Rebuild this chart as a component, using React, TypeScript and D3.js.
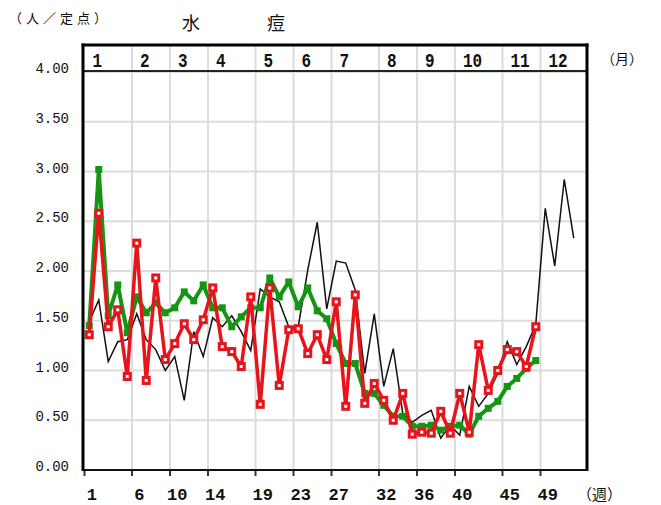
import * as d3 from "d3";

// 月の区切り（週番号）と目盛
const monthLabels = ["1", "2", "3", "4", "5", "6", "7", "8", "9", "10", "11", "12"];
const monthStartWeeks = [1, 6, 10, 14, 19, 23, 27, 32, 36, 40, 45, 49];
const weekTicks = [1, 6, 10, 14, 19, 23, 27, 32, 36, 40, 45, 49];
const yTicks = [0, 0.5, 1, 1.5, 2, 2.5, 3, 3.5, 4];

// 週ごとの定点当たり報告数（週1から）
const blackSeries = [
  1.49, 1.71, 1.09, 1.29, 1.31, 1.57, 1.31, 1.21, 1.0, 1.14,
  0.7, 1.39, 1.14, 1.53, 1.44, 1.55, 1.39, 1.2, 1.82, 1.74,
  1.69, 1.44, 1.44, 2.01, 2.49, 1.62, 2.1, 2.08, 1.81, 0.97,
  1.57, 0.84, 1.22, 0.57, 0.48, 0.55, 0.6, 0.32, 0.45, 0.35,
  0.84, 0.64, 0.77, 0.97, 1.29, 1.06, 1.24, 1.46, 2.63, 2.05,
  2.92, 2.33,
];
const greenSeries = [
  1.45, 3.02, 1.55, 1.86, 1.38, 1.74, 1.58, 1.68, 1.58, 1.63,
  1.79, 1.7, 1.86, 1.63, 1.63, 1.44, 1.54, 1.63, 1.63, 1.93,
  1.74, 1.89, 1.64, 1.83, 1.6, 1.52, 1.27, 1.07, 1.07, 0.77,
  0.77, 0.65, 0.54, 0.54, 0.44, 0.44, 0.45, 0.4, 0.44, 0.45,
  0.36, 0.54, 0.62, 0.69, 0.84, 0.92, 1.02, 1.1,
];
const redSeries = [
  1.36, 2.58, 1.44, 1.61, 0.94, 2.28, 0.9, 1.93, 1.11, 1.27,
  1.47, 1.31, 1.51, 1.83, 1.24, 1.19, 1.04, 1.74, 0.66, 1.83,
  0.85, 1.41, 1.42, 1.17, 1.36, 1.11, 1.69, 0.64, 1.76, 0.67,
  0.87, 0.7, 0.5, 0.77, 0.36, 0.38, 0.37, 0.59, 0.37, 0.77,
  0.38, 1.26, 0.8, 1.0, 1.21, 1.19, 1.04, 1.44,
];

const W = 661;
const H = 505;
const plot = { left: 84.5, right: 588, top: 72, bottom: 470 };
const stripTop = 45;
const gridColor = "#dcdcdc";
const green = "#149614";
const red = "#e8141c";
const monoFont = "'Liberation Mono', 'DejaVu Sans Mono', monospace";
const cjkFont = "'Noto Sans CJK JP', sans-serif";

export default function App() {
  const x = d3.scaleLinear().domain([1, 54]).range([plot.left, plot.right]);
  const y = d3.scaleLinear().domain([0, 4]).range([plot.bottom, plot.top]);
  // i番目の値 → 週(i+1)の中央
  const px = (i: number) => x(i + 1.5);
  const line = d3
    .line<number>()
    .x((_, i) => px(i))
    .y((d) => y(d));

  return (
    <svg
      width={W}
      height={H}
      style={{ position: "absolute", left: 0, top: 0, background: "#fff" }}
    >
      {/* header */}
      <text x={9} y={23} fontFamily={cjkFont} fontSize={13} letterSpacing={4} fill="#111">
        （人／定点）
      </text>
      <text x={182} y={30} fontFamily={cjkFont} fontSize={18} letterSpacing={67} fill="#111">
        水痘
      </text>
      <text x={601} y={64} fontFamily={cjkFont} fontSize={14} fill="#111">
        （月）
      </text>
      <text x={577} y={500} fontFamily={cjkFont} fontSize={15} fill="#111">
        （週）
      </text>

      {/* grid */}
      {yTicks.slice(1).map((v) => (
        <line
          key={`h${v}`}
          x1={83}
          x2={587}
          y1={y(v)}
          y2={y(v)}
          stroke={gridColor}
          strokeWidth={2}
        />
      ))}
      {monthStartWeeks.slice(1).map((w) => (
        <line
          key={`v${w}`}
          x1={x(w)}
          x2={x(w)}
          y1={stripTop}
          y2={plot.bottom}
          stroke={gridColor}
          strokeWidth={2}
        />
      ))}

      {/* month strip */}
      {monthLabels.map((m, i) => (
        <text
          key={`m${m}`}
          transform={`translate(${x(monthStartWeeks[i]) + 8},66.5) scale(1,1.3)`}
          fontFamily={monoFont}
          fontSize={16}
          fontWeight="bold"
          fill="#111"
        >
          {m}
        </text>
      ))}
      <line x1={83} x2={587} y1={71} y2={71} stroke="#222" strokeWidth={2} />

      {/* y labels */}
      {yTicks.map((v) => (
        <text
          key={`y${v}`}
          x={69}
          y={y(v) + 1}
          textAnchor="end"
          fontFamily={monoFont}
          fontSize={14}
          fill="#111"
        >
          {d3.format(".2f")(v)}
        </text>
      ))}

      {/* x labels and ticks */}
      {weekTicks.map((w) => (
        <g key={`x${w}`}>
          <line x1={x(w)} x2={x(w)} y1={470} y2={476} stroke="#333" strokeWidth={2} />
          <text
            x={x(w + 0.5) + 2.5}
            y={500}
            textAnchor="middle"
            fontFamily={monoFont}
            fontSize={17}
            fontWeight="bold"
            fill="#111"
          >
            {w}
          </text>
        </g>
      ))}

      {/* series */}
      <path d={line(blackSeries) || undefined} fill="none" stroke="#111" strokeWidth={1.5} />
      <path
        d={line(greenSeries) || undefined}
        fill="none"
        stroke={green}
        strokeWidth={4}
        strokeLinejoin="round"
      />
      {greenSeries.map((d, i) => (
        <rect key={`g${i}`} x={px(i) - 3.5} y={y(d) - 3.5} width={7} height={7} fill={green} />
      ))}
      <path
        d={line(redSeries) || undefined}
        fill="none"
        stroke={red}
        strokeWidth={3.5}
        strokeLinejoin="round"
      />
      {redSeries.map((d, i) => (
        <rect
          key={`r${i}`}
          x={px(i) - 3}
          y={y(d) - 3}
          width={6}
          height={6}
          fill="#fff"
          stroke={red}
          strokeWidth={3}
        />
      ))}

      {/* frame */}
      <line x1={83} x2={83} y1={43.5} y2={471} stroke="#000" strokeWidth={3} />
      <line x1={587} x2={587} y1={43.5} y2={471} stroke="#000" strokeWidth={3} />
      <line x1={81.5} x2={588.5} y1={45} y2={45} stroke="#000" strokeWidth={3} />
      <line x1={83} x2={588} y1={470} y2={470} stroke="#111" strokeWidth={2} />
    </svg>
  );
}
